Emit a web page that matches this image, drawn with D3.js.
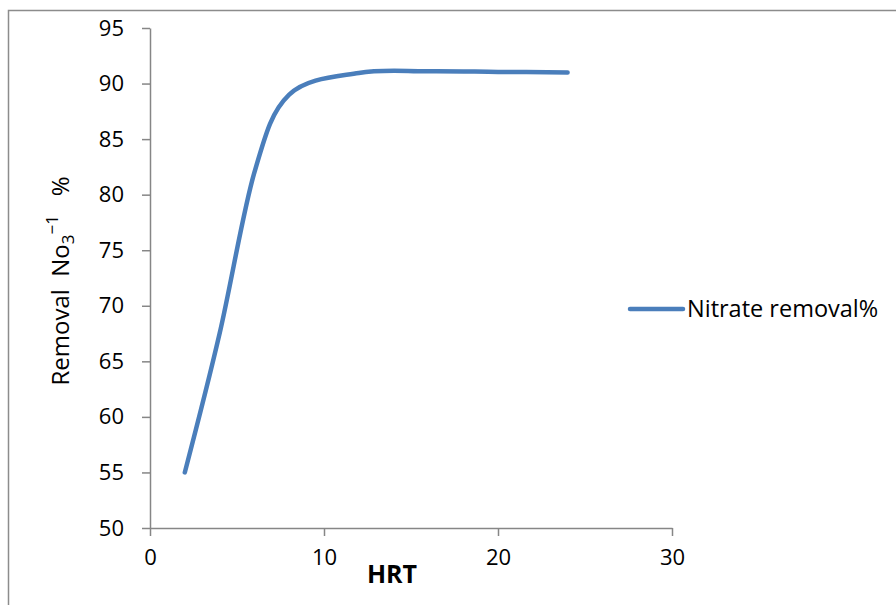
<!DOCTYPE html>
<html>
<head>
<meta charset="utf-8">
<script src="https://cdn.jsdelivr.net/npm/d3@7"></script>
<style>
  body { margin: 0; background: #fff; }
  text { font-family: "Open Sans", "Liberation Sans", sans-serif; fill: #000; }
</style>
</head>
<body>
<div id="chart"></div>
<script>
// HRT values and nitrate removal (%)
var hrt = [2, 4, 6, 8, 12, 16, 20, 24];
var removal = [55, 67.5, 82, 89, 90.95, 91.1, 91.05, 91];
var xTicks = [0, 10, 20, 30];
var yTicks = [50, 55, 60, 65, 70, 75, 80, 85, 90, 95];
var seriesName = "Nitrate removal%";

var width = 896, height = 605;
var margin = {top: 28, left: 150, right: 224, bottom: 77};
var fs = 22;

var svg = d3.select("#chart")
  .append("svg")
    .attr("width", width)
    .attr("height", height);

// outer chart frame (only left/top visible)
svg.append("rect")
  .attr("x", 8.5).attr("y", 10.5)
  .attr("width", width).attr("height", height)
  .attr("fill", "none")
  .attr("stroke", "#8c8c8c")
  .attr("stroke-width", 1.5);

var xScale = d3.scaleLinear()
  .domain([0, 30])
  .range([margin.left, width - margin.right]);

var yScale = d3.scaleLinear()
  .domain([50, 95])
  .range([height - margin.bottom, margin.top]);

var axisColor = "#868686";

// x axis
var xAxis = svg.append("g")
  .attr("transform", "translate(0," + yScale(50) + ")")
  .call(d3.axisBottom(xScale).tickValues(xTicks).tickSize(8).tickPadding(13).tickSizeOuter(0));

// y axis
var yAxis = svg.append("g")
  .attr("transform", "translate(" + xScale(0) + ",0)")
  .call(d3.axisLeft(yScale).tickValues(yTicks).tickSize(8).tickPadding(18).tickSizeOuter(0));

[xAxis, yAxis].forEach(function(a) {
  a.select(".domain").attr("stroke", axisColor).attr("stroke-width", 1.5);
  a.selectAll(".tick line").attr("stroke", axisColor).attr("stroke-width", 1.5);
  a.selectAll(".tick text").attr("font-size", fs).attr("fill", "#000")
    .style("font-family", "'Open Sans', sans-serif");
});

// the series line (smoothed like the original)
var valueline = d3.line()
  .x(function(d, i) { return xScale(hrt[i]); })
  .y(function(d) { return yScale(d); })
  .curve(d3.curveCardinal);

svg.append("path")
  .attr("d", valueline(removal))
  .attr("fill", "none")
  .attr("stroke", "#4a7ebb")
  .attr("stroke-width", 4.5)
  .attr("stroke-linecap", "round")
  .attr("stroke-linejoin", "round");

// axis titles
svg.append("text")
  .attr("x", 392)
  .attr("y", 583)
  .attr("text-anchor", "middle")
  .attr("font-size", 25)
  .attr("font-weight", "bold")
  .text("HRT");

var yl = svg.append("text")
  .attr("transform", "translate(69,281) rotate(-90)")
  .attr("text-anchor", "middle")
  .attr("font-size", 24);
yl.append("tspan").text("Removal\u00a0\u00a0No");
yl.append("tspan").attr("font-size", 17).attr("dy", 5).text("3");
yl.append("tspan").attr("font-size", 17).attr("dy", -16).text("\u22121");
yl.append("tspan").attr("dy", 11).text("\u00a0\u00a0\u00a0%");

// legend
var leg = svg.append("g");
leg.append("line")
  .attr("x1", 630).attr("x2", 683)
  .attr("y1", 309).attr("y2", 309)
  .attr("stroke", "#4a7ebb")
  .attr("stroke-width", 4.5)
  .attr("stroke-linecap", "round");
leg.append("text")
  .attr("x", 687).attr("y", 317)
  .attr("font-size", 23.5)
  .text(seriesName);
</script>
</body>
</html>
